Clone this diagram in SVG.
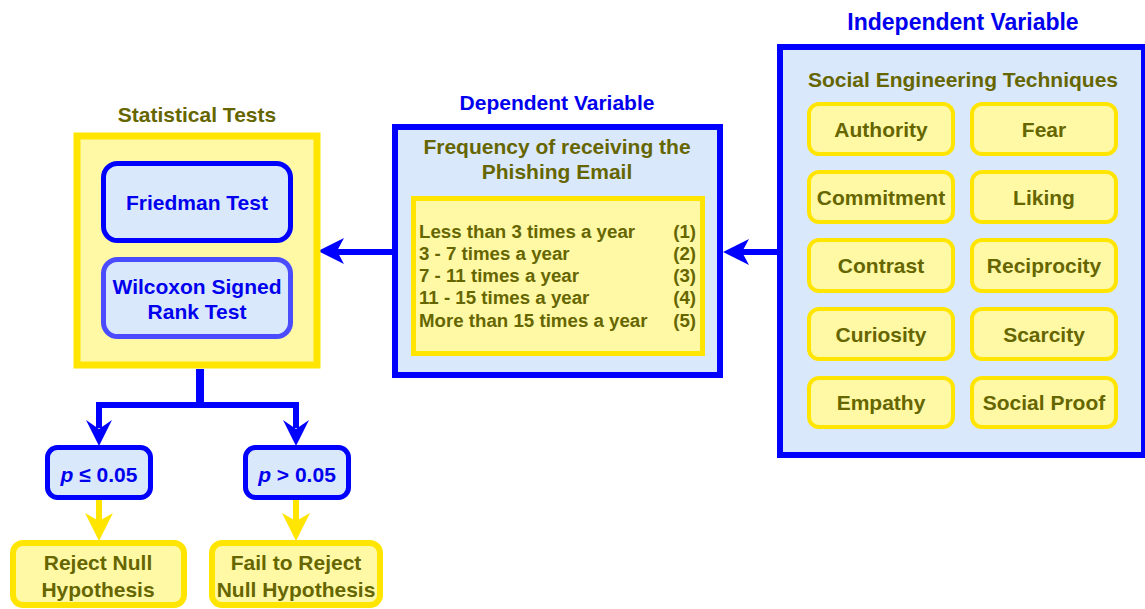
<svg xmlns="http://www.w3.org/2000/svg" width="1145" height="609" viewBox="0 0 1145 609">
  <defs>
    <style>
      text { font-family: "Liberation Sans", Arial, sans-serif; font-weight: bold; text-anchor: middle; }
      .title { font-size: 21px; }
      .title-lg { font-size: 23px; }
      .blue-t { fill: #0000ee; }
      .olive-t { fill: #666600; }
      .lbl { font-size: 21px; }
      .list { font-size: 18.7px; fill: #666600; text-anchor: start; }
      .list-n { font-size: 18.7px; fill: #666600; text-anchor: end; }
      .panel-blue { fill: #dae8fc; stroke: #0000ff; stroke-width: 6; }
      .panel-yellow { fill: #fff9a6; stroke: #ffe500; }
      .box-blue { fill: #dae8fc; stroke: #0000ff; stroke-width: 5; }
      .box-blue-soft { fill: #dae8fc; stroke: #4c4cff; stroke-width: 5; }
      .box-yellow { fill: #fff9a6; stroke: #ffe500; stroke-width: 4; }
      .wire-blue { fill: none; stroke: #0000ff; stroke-width: 6; stroke-linejoin: miter; }
      .wire-yellow { fill: none; stroke: #ffe500; stroke-width: 6; }
      .head-blue { fill: #0000ff; }
      .head-yellow { fill: #ffe500; }
    </style>
  </defs>

  <!-- Connectors -->
  <g id="connectors">
    <!-- independent -> dependent -->
    <path class="wire-blue" d="M780 252 H740"/>
    <polygon class="head-blue" points="723,252 749,239 742,252 749,265"/>
    <!-- dependent -> statistical tests -->
    <path class="wire-blue" d="M395 252 H336"/>
    <polygon class="head-blue" points="318,251 344,238 337,251 344,264"/>
    <!-- statistical tests -> decision branches -->
    <path class="wire-blue" d="M200 369 V405" style="stroke-width:8"/>
    <path class="wire-blue" d="M99 428 V405 H296 V428"/>
    <polygon class="head-blue" points="99,446 86,420 99,429 112,420"/>
    <polygon class="head-blue" points="296,446 283,420 296,429 309,420"/>
    <!-- decisions -> outcomes -->
    <path class="wire-yellow" d="M99 500 V522"/>
    <polygon class="head-yellow" points="99,541 85,513 99,521 113,513"/>
    <path class="wire-yellow" d="M296 500 V522"/>
    <polygon class="head-yellow" points="296,541 282,513 296,521 310,513"/>
  </g>

  <!-- Statistical tests -->
  <g id="statistical-tests">
    <text class="title olive-t" x="197" y="122">Statistical Tests</text>
    <rect class="panel-yellow" x="77" y="136" width="240" height="229" style="stroke-width:7"/>
  </g>
  <g id="friedman">
    <rect class="box-blue" x="103.5" y="163.5" width="187" height="77" rx="14"/>
    <text class="lbl blue-t" x="197" y="210">Friedman Test</text>
  </g>
  <g id="wilcoxon">
    <rect class="box-blue-soft" x="103.5" y="259.5" width="187" height="77" rx="14"/>
    <text class="lbl blue-t" x="197" y="294">Wilcoxon Signed</text>
    <text class="lbl blue-t" x="197" y="319">Rank Test</text>
  </g>

  <!-- Decision nodes -->
  <g id="p-significant">
    <rect class="box-blue" x="47.5" y="447.5" width="103" height="50" rx="10"/>
    <text class="lbl blue-t" x="99" y="482"><tspan font-style="italic">p</tspan> ≤ 0.05</text>
  </g>
  <g id="p-not-significant">
    <rect class="box-blue" x="245.5" y="447.5" width="103" height="50" rx="10"/>
    <text class="lbl blue-t" x="297" y="482"><tspan font-style="italic">p</tspan> &gt; 0.05</text>
  </g>

  <!-- Outcome nodes -->
  <g id="reject-null">
    <rect class="box-yellow" x="13" y="543" width="171" height="62" rx="10" style="stroke-width:6"/>
    <text class="lbl olive-t" x="98" y="570">Reject Null</text>
    <text class="lbl olive-t" x="98" y="597">Hypothesis</text>
  </g>
  <g id="fail-to-reject">
    <rect class="box-yellow" x="212" y="543" width="168" height="62" rx="10" style="stroke-width:6"/>
    <text class="lbl olive-t" x="296" y="570">Fail to Reject</text>
    <text class="lbl olive-t" x="296" y="597">Null Hypothesis</text>
  </g>

  <!-- Dependent variable -->
  <g id="dependent-variable">
    <text class="title blue-t" x="557" y="110">Dependent Variable</text>
    <rect class="panel-blue" x="395" y="127" width="325" height="248"/>
    <text class="lbl olive-t" x="557" y="154">Frequency of receiving the</text>
    <text class="lbl olive-t" x="557" y="179">Phishing Email</text>
    <rect class="panel-yellow" x="413.5" y="198.5" width="289" height="155" style="stroke-width:5"/>
    <text class="list" x="419" y="237.5">Less than 3 times a year</text>
    <text class="list" x="419" y="259.5">3 - 7 times a year</text>
    <text class="list" x="419" y="281.5">7 - 11 times a year</text>
    <text class="list" x="419" y="304">11 - 15 times a year</text>
    <text class="list" x="419" y="326.5">More than 15 times a year</text>
    <text class="list-n" x="696" y="237.5">(1)</text>
    <text class="list-n" x="696" y="259.5">(2)</text>
    <text class="list-n" x="696" y="281.5">(3)</text>
    <text class="list-n" x="696" y="304">(4)</text>
    <text class="list-n" x="696" y="326.5">(5)</text>
  </g>

  <!-- Independent variable -->
  <g id="independent-variable">
    <text class="title-lg blue-t" x="963" y="30">Independent Variable</text>
    <rect class="panel-blue" x="780" y="47" width="364" height="408"/>
    <text class="lbl olive-t" x="963" y="87">Social Engineering Techniques</text>
  </g>
  <g id="authority">
    <rect class="box-yellow" x="809" y="104" width="144" height="50" rx="10"/>
    <text class="lbl olive-t" x="881" y="136.5">Authority</text>
  </g>
  <g id="fear">
    <rect class="box-yellow" x="972" y="104" width="144" height="50" rx="10"/>
    <text class="lbl olive-t" x="1044" y="136.5">Fear</text>
  </g>
  <g id="commitment">
    <rect class="box-yellow" x="809" y="172" width="144" height="50" rx="10"/>
    <text class="lbl olive-t" x="881" y="204.5">Commitment</text>
  </g>
  <g id="liking">
    <rect class="box-yellow" x="972" y="172" width="144" height="50" rx="10"/>
    <text class="lbl olive-t" x="1044" y="204.5">Liking</text>
  </g>
  <g id="contrast">
    <rect class="box-yellow" x="809" y="240" width="144" height="51" rx="10"/>
    <text class="lbl olive-t" x="881" y="273">Contrast</text>
  </g>
  <g id="reciprocity">
    <rect class="box-yellow" x="972" y="240" width="144" height="51" rx="10"/>
    <text class="lbl olive-t" x="1044" y="273">Reciprocity</text>
  </g>
  <g id="curiosity">
    <rect class="box-yellow" x="809" y="309" width="144" height="50" rx="10"/>
    <text class="lbl olive-t" x="881" y="341.5">Curiosity</text>
  </g>
  <g id="scarcity">
    <rect class="box-yellow" x="972" y="309" width="144" height="50" rx="10"/>
    <text class="lbl olive-t" x="1044" y="341.5">Scarcity</text>
  </g>
  <g id="empathy">
    <rect class="box-yellow" x="809" y="378" width="144" height="49" rx="10"/>
    <text class="lbl olive-t" x="881" y="410">Empathy</text>
  </g>
  <g id="social-proof">
    <rect class="box-yellow" x="972" y="378" width="144" height="49" rx="10"/>
    <text class="lbl olive-t" x="1044" y="410">Social Proof</text>
  </g>
</svg>
